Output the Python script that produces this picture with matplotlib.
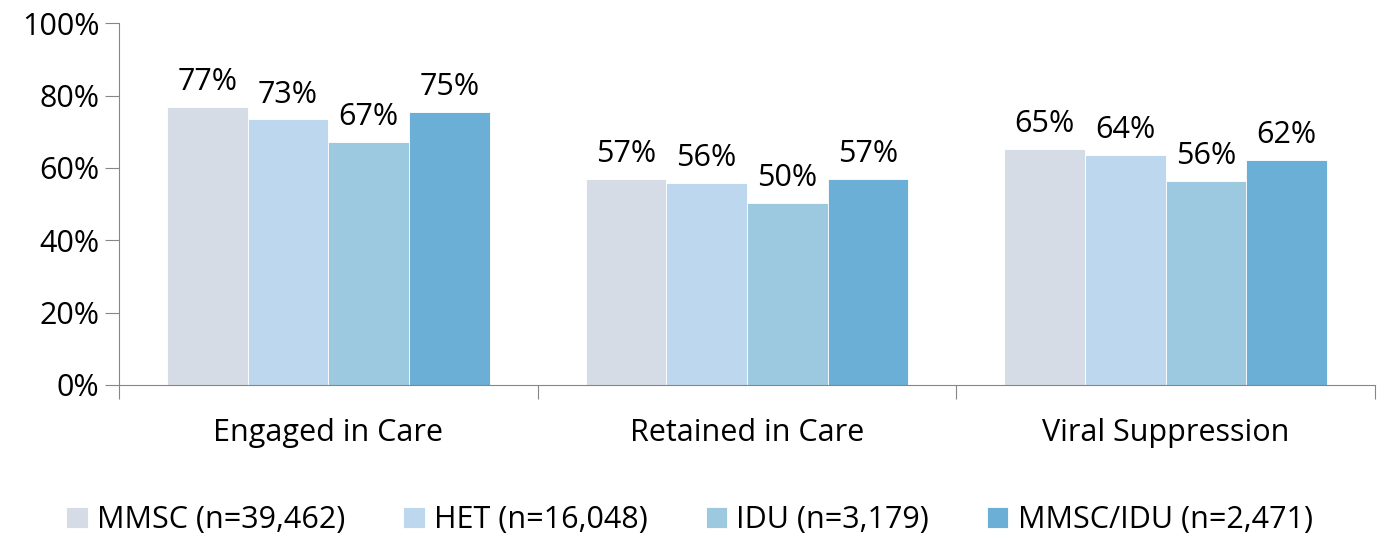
import matplotlib
matplotlib.use("Agg")
import matplotlib.pyplot as plt
import numpy as np

# data
categories = ["Engaged in Care", "Retained in Care", "Viral Suppression"]
groups = ["MMSC (n=39,462)", "HET (n=16,048)", "IDU (n=3,179)", "MMSC/IDU (n=2,471)"]
mmsc = [76.8, 56.9, 65.3]
het = [73.4, 55.8, 63.6]
idu = [67.1, 50.3, 56.4]
mmsc_idu = [75.4, 56.9, 62.2]
colors = ["#D5DCE6", "#BDD7EE", "#9DC9E0", "#6BAED6"]
y_ticks = [0, 20, 40, 60, 80, 100]

plt.rcParams["font.family"] = ["Open Sans", "DejaVu Sans"]

fig = plt.figure(figsize=(13.79, 5.38), dpi=100)
ax = fig.add_axes([0.0863, 0.2844, 0.9107, 0.6726])

series = [mmsc, het, idu, mmsc_idu]
group_w = 0.771
bar_w = group_w / len(series)
centers = np.arange(len(categories)) + 0.5
for i, (vals, col, name) in enumerate(zip(series, colors, groups)):
    xs = centers - group_w / 2 + bar_w * (i + 0.5)
    ax.bar(xs, vals, width=bar_w, color=col, edgecolor="white", linewidth=0.6, label=name)
    for x, v in zip(xs, vals):
        ax.annotate(f"{round(v)}%", (x, v), xytext=(0, 7), textcoords="offset points",
                    ha="center", va="bottom", fontsize=22, color="black")

ax.set_xlim(0, len(categories))
ax.set_ylim(0, 100)
ax.set_yticks(y_ticks)
ax.set_yticklabels([f"{t}%" for t in y_ticks], fontsize=22)
ax.set_xticks(np.arange(len(categories) + 1))
ax.set_xticklabels([])
ax.set_xticks(centers, minor=True)
ax.set_xticklabels(categories, minor=True, fontsize=22)
ax.tick_params(axis="x", which="minor", length=0, pad=24)
ax.tick_params(axis="x", which="major", length=10, color="#868686")
ax.tick_params(axis="y", length=10, color="#868686", pad=4)

for s in ["top", "right"]:
    ax.spines[s].set_visible(False)
for s in ["left", "bottom"]:
    ax.spines[s].set_color("#868686")

fig.legend(loc="center", bbox_to_anchor=(0.5, 0.033), ncol=4, frameon=False,
           fontsize=22, handlelength=0.7, handleheight=0.7, handletextpad=0.3,
           columnspacing=1.9)

fig.savefig("out.png", dpi=100)
